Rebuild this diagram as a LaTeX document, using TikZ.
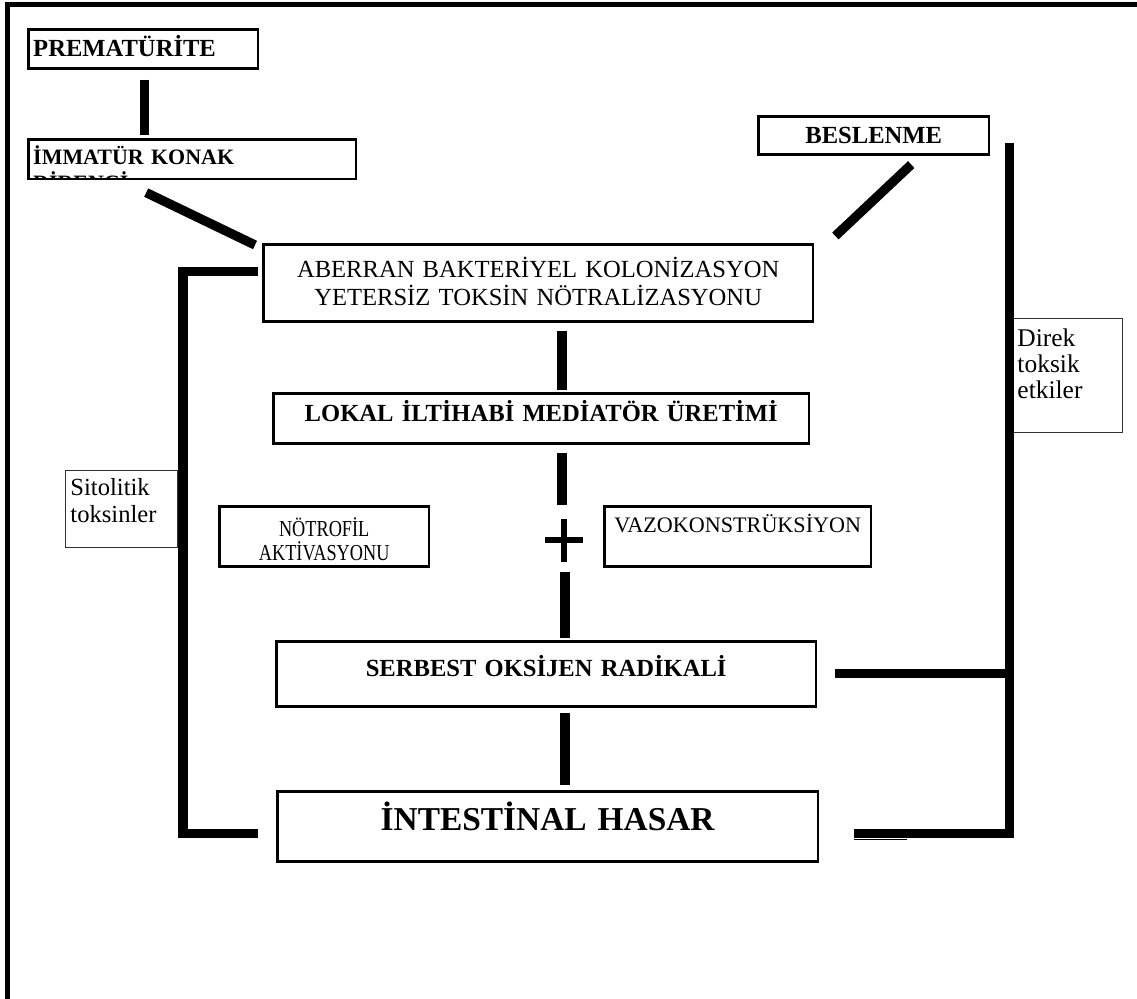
\documentclass[tikz,border=0pt]{standalone}
\usepackage{fontspec}
\setmainfont{Liberation Serif}
\usetikzlibrary{calc}

\begin{document}
\begin{tikzpicture}[x=0.02cm, y=-0.02cm,
    box/.style={draw, line width=1.5pt, anchor=north west, inner xsep=2.8pt, inner ysep=0pt},
    thinbox/.style={box, line width=0.6pt, draw=black!80},
    bar/.style={line width=5.3pt},
    yazi/.style={font=\fontsize{14}{16}\selectfont},
    kalin/.style={font=\fontsize{14}{16}\selectfont\bfseries}]
    \useasboundingbox (0,0) rectangle (1137,999);
    % cerceve
    \draw[line width=2.8pt] (7.5,999) -- (7.5,4.5) -- (1137,4.5);

    % kutular
    \node[box, kalin, text width=4.4cm, align=left, text height=15.4pt, text depth=6.8pt] (prem) at (27,28) {PREMATÜRİTE};
    \begin{scope}
        % ikinci satir kutunun altinda kesik
        \clip (20,130) rectangle (362,179.3);
        \node[box, text width=6.36cm, align=left, text height=14.2pt, text depth=8.56pt,
              font=\fontsize{12.5}{14.8}\selectfont\bfseries] (immatur) at (27,138) {İMMATÜR KONAK\\DİRENCİ};
    \end{scope}
    \node[box, kalin, text width=4.42cm, align=center, text height=15.4pt, text depth=6.2pt] (beslenme) at (757,115) {BESLENME};
    \node[box, yazi, text width=10.8cm, align=center, text height=18.8pt, text depth=25pt] (aberran) at (262,243)
        {ABERRAN BAKTERİYEL KOLONİZASYON\\YETERSİZ TOKSİN NÖTRALİZASYONU};
    \node[box, kalin, text width=10.52cm, align=center, text height=15.9pt, text depth=12.6pt] (lokal) at (272,392) {LOKAL İLTİHABİ MEDİATÖR ÜRETİMİ};
    \node[box, text width=4cm, align=center, text height=17.1pt, text depth=17pt, font=\fontsize{13}{13.7}\selectfont] (notrofil) at (218,505)
        {\scalebox{0.8}[1]{NÖTROFİL}\\\scalebox{0.8}[1]{AKTİVASYONU}};
    \node[box, text width=5.14cm, align=center, text height=14.8pt, text depth=19.3pt, font=\fontsize{12.6}{14}\selectfont] (vazo) at (603,505) {VAZOKONSTRÜKSİYON};
    \node[box, kalin, text width=10.6cm, align=center, text height=19.9pt, text depth=17.1pt] (serbest) at (275,640) {SERBEST OKSİJEN RADİKALİ};
    \node[box, text width=10.62cm, align=center, text height=22.2pt, text depth=17.6pt, font=\fontsize{19}{22}\selectfont\bfseries] (intestinal) at (276,790) {İNTESTİNAL HASAR};
    \node[thinbox, text width=2.04cm, align=left, text height=14.2pt, text depth=29.6pt, font=\fontsize{14}{15.4}\selectfont] (sitolitik) at (65,470) {Sitolitik\\toksinler};
    \node[thinbox, text width=2cm, align=left, text height=15.9pt, text depth=49pt, font=\fontsize{14.5}{14.8}\selectfont] (direk) at (1012,318) {Direk\\toksik\\etkiler};

    % baglantilar
    \coordinate (arti) at (564,540);
    \draw[bar] ($(prem.south)+(1,10)$) -- ($(prem.south |- immatur.north)+(1,-3)$);
    \draw[bar] ($(immatur.south)+(-46,12)$) -- ($(aberran.north west)+(-7,2)$);
    \draw[bar] ($(beslenme.south)+(37.5,9)$) -- ($(aberran.north east)+(21,-7)$);
    \draw[bar] ($(aberran.south -| arti)+(-2,8)$) -- ($(lokal.north -| arti)+(-2,-2)$);
    \draw[bar] ($(lokal.south -| arti)+(-2,8)$) -- ($(arti)+(-2,-35)$);
    \draw[bar] ($(arti)+(1,32)$) -- ($(serbest.north -| arti)+(1,-2)$);
    \draw[bar] ($(serbest.south -| arti)+(1,5)$) -- ($(intestinal.north -| arti)+(1,-5)$);
    % arti isareti
    \draw[line width=3.4pt] ($(arti)+(0,-21)$) -- ($(arti)+(0,22)$) ($(arti)+(-19,0)$) -- ($(arti)+(19,0)$);

    % yan kollar
    \draw[bar] ($(aberran.west)+(-4,-11)$) -| ($(intestinal.west)+(-93,7)$) -- ($(intestinal.west)+(-18,7)$);
    \draw[bar] ($(beslenme.east)+(19,8)$) |- ($(intestinal.east)+(35,7)$);
    \draw[bar] ($(serbest.east)+(18,0)$) -- ($(serbest.east)+(194,0)$);
    \draw[line width=0.8pt] ($(intestinal.east)+(35,13)$) -- ++(53,0);
\end{tikzpicture}
\end{document}
